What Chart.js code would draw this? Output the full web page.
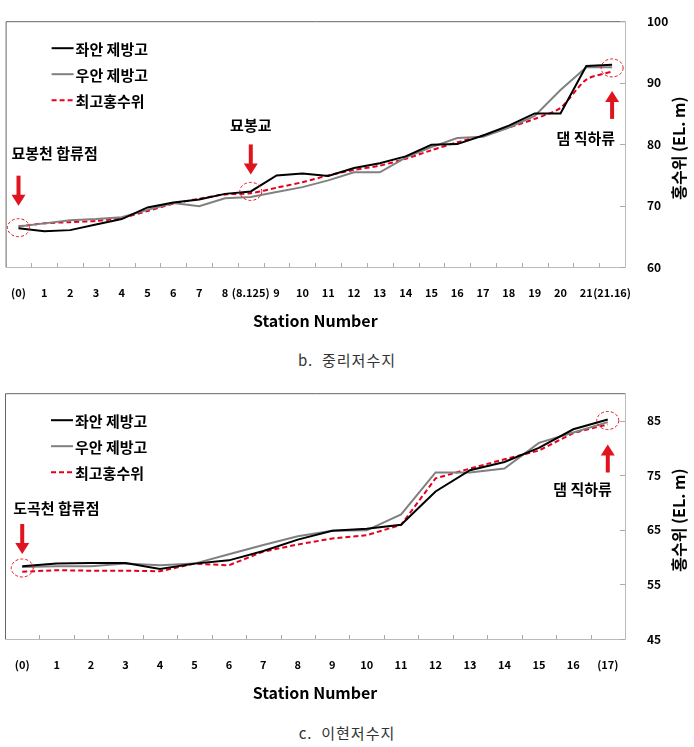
<!DOCTYPE html>
<html>
<head>
<meta charset="utf-8">
<script src="https://cdn.jsdelivr.net/npm/chart.js@4.4.0/dist/chart.umd.min.js"></script>
<style>
  body { margin: 0; background: #fff; width: 694px; height: 747px; position: relative; overflow: hidden; font-family: "Noto Sans CJK KR", sans-serif; }
  .box { position: absolute; left: 0; width: 694px; height: 335px; }
  .cap { position: absolute; left: 0; width: 694px; text-align: center; font-size: 15px; color: #333; letter-spacing: 1px; }
</style>
</head>
<body>
<div class="box" style="top:0"><canvas id="c1"></canvas></div>
<div class="cap" style="top:349px">b.&nbsp; 중리저수지</div>
<div class="box" style="top:372px"><canvas id="c2"></canvas></div>
<div class="cap" style="top:722px">c.&nbsp; 이현저수지</div>
<script>
const seriesNames = ['좌안 제방고', '우안 제방고', '최고홍수위'];

// 중리저수지
const stations1 = ['(0)', '1', '2', '3', '4', '5', '6', '7', '8', '(8.125)', '9', '10', '11', '12',
                   '13', '14', '15', '16', '17', '18', '19', '20', '21', '(21.16)'];
const leftBank1 = [66.3, 65.8, 66.0, 66.9, 67.8, 69.7, 70.5, 71.0, 71.9, 72.3, 74.9, 75.2, 74.8, 76.1,
                   76.9, 78.0, 79.9, 80.0, 81.4, 83.0, 85.0, 85.0, 92.7, 92.9];
const rightBank1 = [66.6, 67.1, 67.6, 67.8, 68.1, 69.3, 70.4, 69.9, 71.2, 71.4, 72.2, 73.0, 74.1, 75.4,
                    75.4, 77.8, 79.5, 81.0, 81.2, 82.7, 84.6, 88.8, 92.5, 92.5];
const flood1 = [66.6, 67.1, 67.3, 67.5, 68.0, 69.1, 70.3, 71.1, 71.8, 72.0, 72.9, 73.8, 74.9, 75.8,
                76.5, 77.6, 79.0, 80.3, 81.4, 82.7, 84.1, 85.9, 90.5, 91.8];
const yTicks1 = [60, 70, 80, 90, 100];

// 이현저수지
const stations2 = ['(0)', '1', '2', '3', '4', '5', '6', '7', '8', '9', '10', '11', '12', '13', '14', '15', '16', '(17)'];
const leftBank2 = [58.3, 58.8, 58.9, 58.9, 57.8, 58.8, 59.4, 61.1, 63.2, 64.8, 65.2, 65.9, 72.0, 75.9, 77.4, 80.0, 83.4, 85.2];
const rightBank2 = [58.2, 58.3, 58.3, 58.8, 58.5, 58.8, 60.5, 62.2, 63.8, 64.8, 64.9, 67.8, 75.5, 75.5, 76.2, 80.9, 82.8, 84.7];
const flood2 = [57.3, 57.6, 57.5, 57.5, 57.4, 58.8, 58.5, 61.0, 62.3, 63.4, 64.0, 65.9, 74.4, 76.2, 77.9, 79.5, 82.7, 84.3];
const yTicks2 = [45, 55, 65, 75, 85];

// annotation anchors: category index + value, offsets in px
const notes1 = [
  { i: 0, v: 66.4, text: '묘봉천 합류점', dir: 'down', arrow: [-52, -22], textDy: -74, align: 'left', textDx: -7 },
  { i: 9, v: 72.3, text: '묘봉교', dir: 'down', arrow: [-47, -17], textDy: -66, align: 'center', textDx: 0 },
  { i: 23, v: 92.4, text: '댐 직하류', dir: 'up', arrow: [51, 23], textDy: 70, align: 'right', textDx: 3 }
];
const notes2 = [
  { i: 0, v: 58.0, text: '도곡천 합류점', dir: 'down', arrow: [-44, -14], textDy: -60, align: 'left', textDx: -9 },
  { i: 17, v: 85.0, text: '댐 직하류', dir: 'up', arrow: [52, 24], textDy: 69, align: 'right', textDx: 4 }
];

const KR = '"Noto Sans CJK KR", sans-serif';

function decor(notes, yTicks) {
  return {
    id: 'decor',
    afterDraw(chart) {
      const ctx = chart.ctx;
      const a = chart.chartArea;
      const xs = chart.scales.x;
      const ys = chart.scales.y;
      ctx.save();

      // frame
      ctx.lineWidth = 1;
      ctx.strokeStyle = '#bbb';
      ctx.beginPath();
      ctx.moveTo(a.left, a.bottom + 0.5); ctx.lineTo(a.right + 0.5, a.bottom + 0.5); ctx.lineTo(a.right + 0.5, a.top);
      ctx.stroke();
      ctx.strokeStyle = '#666';
      ctx.beginPath();
      ctx.moveTo(a.left + 0.5, a.bottom); ctx.lineTo(a.left + 0.5, a.top + 0.5); ctx.lineTo(a.right, a.top + 0.5);
      ctx.stroke();

      // small tick marks
      ctx.strokeStyle = '#aaa';
      ctx.beginPath();
      const half = (xs.getPixelForValue(1) - xs.getPixelForValue(0)) / 2;
      for (let k = 1; k < xs.ticks.length; k++) {
        const px = Math.round(xs.getPixelForValue(k) - half) + 0.5;
        ctx.moveTo(px, a.bottom); ctx.lineTo(px, a.bottom - 4);
      }
      yTicks.forEach(t => {
        const py = Math.round(ys.getPixelForValue(t)) + 0.5;
        ctx.moveTo(a.right, py); ctx.lineTo(a.right - 5, py);
      });
      ctx.stroke();

      // legend
      const ds = chart.data.datasets;
      ctx.font = 'bold 15px ' + KR;
      ctx.textBaseline = 'middle';
      ctx.textAlign = 'left';
      ds.forEach((d, k) => {
        const y = a.top + 27 + k * 26;
        ctx.strokeStyle = d.borderColor;
        ctx.lineWidth = 2;
        ctx.setLineDash(d.borderDash || []);
        ctx.beginPath(); ctx.moveTo(a.left + 46, y); ctx.lineTo(a.left + 68, y); ctx.stroke();
        ctx.setLineDash([]);
        ctx.fillStyle = '#000';
        ctx.fillText(d.label, a.left + 70, y + 1);
      });

      // annotations
      notes.forEach(n => {
        const cx = xs.getPixelForValue(n.i);
        const cy = ys.getPixelForValue(n.v);
        ctx.strokeStyle = '#e0141e';
        ctx.lineWidth = 1;
        ctx.setLineDash([3, 2]);
        ctx.beginPath(); ctx.ellipse(cx, cy, 11, 9, 0, 0, Math.PI * 2); ctx.stroke();
        ctx.setLineDash([]);

        const y0 = cy + n.arrow[0], y1 = cy + n.arrow[1];
        const s = n.dir === 'down' ? 1 : -1;
        ctx.lineWidth = 4;
        ctx.beginPath(); ctx.moveTo(cx, y0); ctx.lineTo(cx, y1 - s * 10); ctx.stroke();
        ctx.fillStyle = '#e0141e';
        ctx.beginPath();
        ctx.moveTo(cx - 7, y1 - s * 11); ctx.lineTo(cx + 7, y1 - s * 11); ctx.lineTo(cx, y1);
        ctx.closePath(); ctx.fill();

        ctx.fillStyle = '#000';
        ctx.font = 'bold 15px ' + KR;
        ctx.textAlign = n.align;
        ctx.fillText(n.text, cx + n.textDx, cy + n.textDy);
      });

      // right axis title
      ctx.translate(679, a.top + (a.bottom - a.top) / 2 + 4);
      ctx.rotate(-Math.PI / 2);
      ctx.textAlign = 'center';
      ctx.font = 'bold 16px ' + KR;
      ctx.fillStyle = '#000';
      ctx.fillText('홍수위 (EL. m)', 0, 0);
      ctx.restore();
    }
  };
}

function makeChart(id, labels, left, right, flood, yMin, yMax, yTicks, notes, tension) {
  return new Chart(document.getElementById(id), {
    type: 'line',
    data: {
      labels: labels,
      datasets: [
        { label: seriesNames[0], data: left, borderColor: '#000', borderWidth: 2, pointRadius: 0, tension: 0 },
        { label: seriesNames[1], data: right, borderColor: '#808080', borderWidth: 2, pointRadius: 0, tension: 0 },
        { label: seriesNames[2], data: flood, borderColor: '#e6001e', borderWidth: 2, borderDash: [5, 3], pointRadius: 0, tension: tension }
      ]
    },
    options: {
      responsive: true,
      maintainAspectRatio: false,
      animation: false,
      events: [],
      layout: { padding: { left: 5, top: 20, right: 0, bottom: 0 } },
      plugins: { legend: { display: false }, tooltip: { enabled: false } },
      scales: {
        x: {
          offset: true,
          grid: { display: false },
          border: { display: false },
          ticks: { autoSkip: false, maxRotation: 0, padding: 11, color: '#000',
                    font: { family: '"Liberation Sans Narrow", "Noto Sans CJK KR", sans-serif', size: 11, weight: 'bold' } },
          title: { display: true, text: 'Station Number', color: '#000', padding: { top: 0, bottom: 4 },
                   font: { family: KR, size: 16, weight: 'bold' } },
          afterFit(scale) { scale.height = 68; }
        },
        y: {
          position: 'right',
          min: yMin,
          max: yMax,
          grid: { display: false },
          border: { display: false },
          afterBuildTicks(scale) { scale.ticks = yTicks.map(v => ({ value: v })); },
          ticks: { padding: 14, color: '#000', font: { family: KR, size: 12, weight: 'bold' } },
          afterFit(scale) { scale.width = 69; }
        }
      }
    },
    plugins: [decor(notes, yTicks)]
  });
}

makeChart('c1', stations1, leftBank1, rightBank1, flood1, 60, 100, yTicks1, notes1, 0.25);
makeChart('c2', stations2, leftBank2, rightBank2, flood2, 45, 90, yTicks2, notes2, 0);
</script>
</body>
</html>
